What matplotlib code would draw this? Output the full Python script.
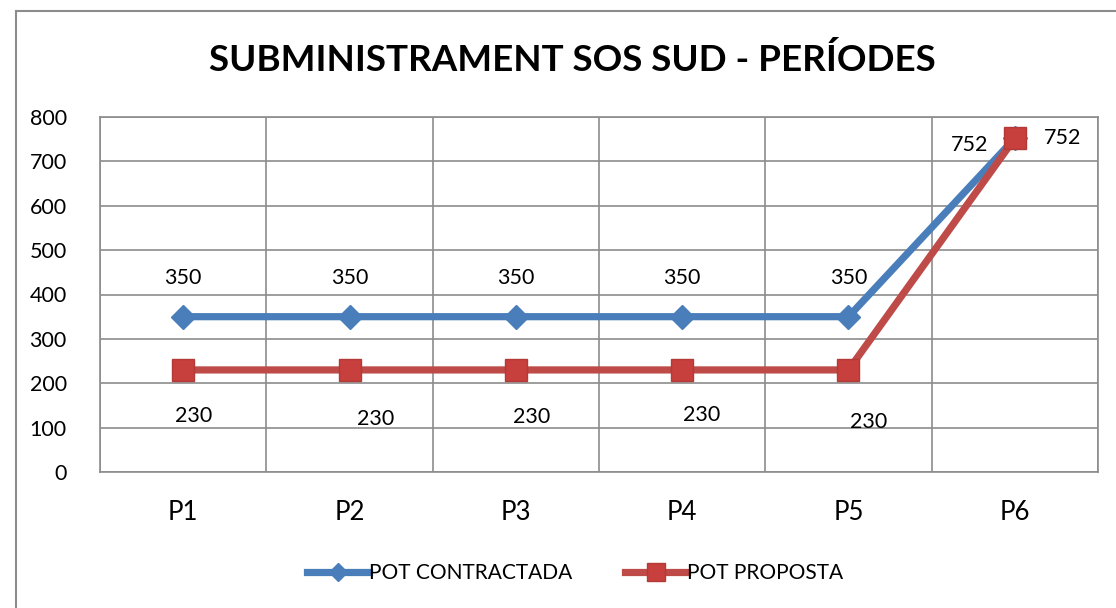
import matplotlib
matplotlib.use("Agg")
import matplotlib.pyplot as plt
from matplotlib.patches import Rectangle

# dades
periodes = ["P1", "P2", "P3", "P4", "P5", "P6"]
pot_contractada = [350, 350, 350, 350, 350, 752]
pot_proposta = [230, 230, 230, 230, 230, 752]

# desplaçaments de les etiquetes (pixels)
off_contractada = [(0, 39), (0, 39), (0, 39), (0, 39), (0, 39), (-45, -7)]
off_proposta = [(10, -46), (26, -49), (16, -47), (19, -45), (20, -52), (48, 0)]

plt.rcParams['font.family'] = ['Lato', 'DejaVu Sans']

blau = '#4A7EBB'
vermell = '#BE4B48'

fig = plt.figure(figsize=(11.16, 6.08), dpi=100)
fig.patches.append(Rectangle((16 / 1116, -0.1), 1.2, 1.1 - 11 / 608,
                             transform=fig.transFigure, fill=False,
                             edgecolor='#8c8c8c', linewidth=1.5))
ax = fig.add_axes([100 / 1116, 1 - 472 / 608, 998 / 1116, 355 / 608])

x = range(len(periodes))
ax.plot(x, pot_contractada, color=blau, linewidth=5.2, marker='D', markersize=12,
        markerfacecolor=blau, markeredgecolor=blau, label='POT CONTRACTADA', zorder=3)
ax.plot(x, pot_proposta, color=vermell, linewidth=5.2, marker='s', markersize=16,
        markerfacecolor='#C8403D', markeredgecolor='#B23A37', label='POT PROPOSTA', zorder=4)

for i, v in enumerate(pot_contractada):
    ax.annotate(str(v), (i, v), xytext=off_contractada[i], textcoords='offset pixels',
                ha='center', va='center', fontsize=15.5)
for i, v in enumerate(pot_proposta):
    ax.annotate(str(v), (i, v), xytext=off_proposta[i], textcoords='offset pixels',
                ha='center', va='center', fontsize=15.5)

ax.set_xlim(-0.5, len(periodes) - 0.5)
ax.set_ylim(0, 800)
ax.set_yticks(range(0, 801, 100))
ax.set_xticks(list(x))
ax.set_xticklabels(periodes, fontsize=18.5)
ax.set_xticks([i - 0.5 for i in range(len(periodes) + 1)], minor=True)
ax.tick_params(axis='y', labelsize=15.5, length=0, pad=24)
ax.tick_params(axis='x', which='both', length=0, pad=20)
ax.grid(axis='y', color='#8c8c8c', linewidth=1.2)
ax.grid(axis='x', which='minor', color='#8c8c8c', linewidth=1.2)
for s in ax.spines.values():
    s.set_color('#8c8c8c')
    s.set_linewidth(1.2)
ax.set_axisbelow(True)

fig.text(572 / 1116, 1 - 60 / 608, 'SUBMINISTRAMENT SOS SUD - PERÍODES',
         ha='center', va='center', fontsize=26.5, fontweight='bold')

fig.legend(loc='center', bbox_to_anchor=(575 / 1116, 1 - 573 / 608), ncol=2,
           frameon=False, fontsize=15, handlelength=3.0, handletextpad=0.0,
           columnspacing=2.5, markerscale=0.8)

fig.savefig('out.png', dpi=100)
